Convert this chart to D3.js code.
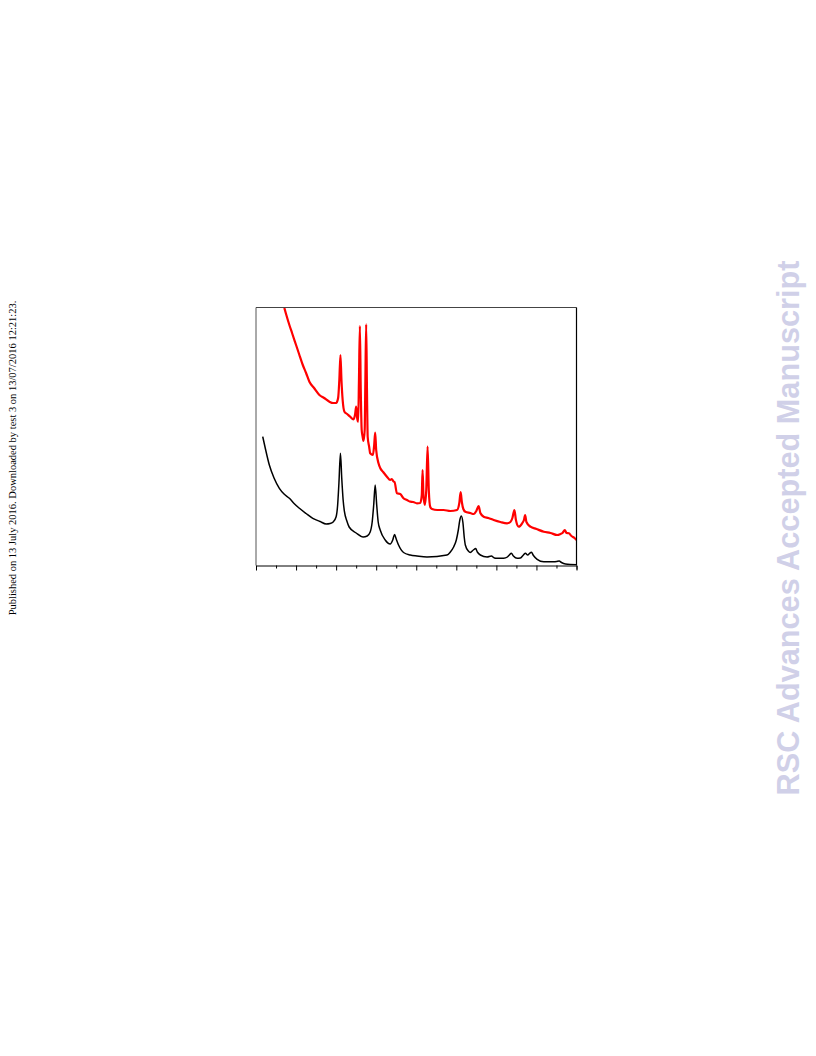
<!DOCTYPE html>
<html><head><meta charset="utf-8">
<script src="https://cdn.jsdelivr.net/npm/d3@7"></script>
<style>html,body{margin:0;padding:0;background:#fff}svg{display:block}</style>
</head><body>
<script>
// 2-theta (deg) and intensity (a.u.)
const blackX = [11.68,12.25,13.33,14.5,15.83,17.0,18.33,19.5,20.83,22.5,24.18,26.0,27.5,28.5,29.25,30.0,30.38,30.7,31.08,31.4,31.75,32.08,32.68,33.25,35.0,36.75,37.75,38.5,39.0,39.38,39.75,40.13,40.5,41.0,42.25,43.5,44.13,44.58,45.0,45.58,46.83,48.5,50.18,52.68,57.68,58.5,59.33,60.0,60.5,60.88,61.25,61.63,62.0,62.25,63.0,63.5,64.25,64.83,65.25,66.0,67.68,68.75,69.5,70.18,71.83,72.75,73.25,73.75,74.25,75.18,76.0,76.75,77.25,77.83,78.25,78.75,79.25,80.18,81.83,84.33,85.0,85.68,86.25,87.25,90.0];
const blackY = [128.8,118.5,100.5,87.5,77.2,71.5,67.2,62.0,57.2,52.0,47.2,44.0,41.5,42.0,43.5,48.8,60.5,82.5,112.2,87.5,65.5,53.8,44.5,38.5,32.5,28.5,29.5,33.5,43.5,60.5,80.5,60.5,43.5,35.5,25.5,21.5,25.5,31.0,26.5,20.5,13.0,10.5,9.5,8.5,10.5,13.5,18.5,25.5,35.5,45.5,49.5,43.5,27.5,20.5,14.5,13.0,15.5,17.0,13.5,10.5,8.5,9.5,7.5,7.2,7.2,8.5,10.5,12.2,9.5,7.2,7.5,10.5,12.2,10.5,12.0,13.2,10.0,6.2,3.8,3.8,4.0,4.5,3.0,1.5,0.8];
const redX = [17.08,17.5,18.33,19.0,20.0,20.75,21.68,22.5,23.33,24.5,25.83,27.0,28.33,29.25,30.0,30.5,30.8,31.08,31.33,31.63,32.08,32.75,33.5,34.33,34.75,35.0,35.25,35.5,35.7,35.93,36.15,36.38,36.63,36.83,37.13,37.3,37.5,37.7,37.88,38.25,38.5,39.18,39.5,39.75,40.0,40.58,41.0,41.75,42.68,43.5,43.88,44.33,44.58,45.18,46.0,46.75,47.68,48.5,49.25,50.18,51.0,51.38,51.58,51.8,52.13,52.5,52.83,53.13,53.5,53.93,55.25,56.83,58.5,60.18,60.75,61.08,61.38,61.75,62.25,63.5,64.33,65.0,65.58,66.0,66.83,68.0,69.33,71.0,72.68,73.5,74.0,74.5,74.88,75.58,76.43,76.88,77.18,77.5,78.5,80.0,81.83,83.5,85.18,86.0,86.5,87.08,87.5,88.08,88.75,89.5,90.0];
const redY = [257.5,251.5,240.5,232.5,220.5,211.5,200.5,192.5,183.8,177.5,170.5,167.5,163.8,162.5,162.5,167.5,185.5,210.5,185.5,165.5,153.8,151.5,148.8,146.2,151.5,158.8,147.5,143.8,185.5,239.5,175.5,135.5,128.5,124.5,135.5,185.5,241.2,175.5,128.5,118.5,112.2,110.5,120.5,132.8,115.5,102.2,97.5,93.5,88.8,85.5,86.5,84.0,83.5,72.2,71.5,67.5,65.5,63.8,63.5,62.2,62.5,70.5,95.5,70.5,60.5,75.5,118.8,75.5,58.5,56.5,55.5,55.5,54.5,55.5,62.5,73.5,63.5,56.5,53.8,52.5,51.5,54.5,59.5,52.5,48.8,47.5,45.5,43.5,42.2,43.5,47.5,55.5,45.5,38.8,42.2,45.5,50.5,43.5,38.8,36.5,33.8,32.5,30.5,31.5,32.5,35.5,32.5,32.2,29.5,27.5,25.5];
const xTicks = [10,15,20,25,30,35,40,45,50,55,60,65,70,75,80,85,90];
const sideNote = "Published on 13 July 2016. Downloaded by test 3 on 13/07/2016 12:21:23.";
const watermark = "RSC Advances Accepted Manuscript";

const W = 816, H = 1056;
const svg = d3.select("body").append("svg").attr("width", W).attr("height", H);
const pL = 256, pR = 576.5, pT = 307.5, pB = 565.5;
const x = d3.scaleLinear().domain([10, 90]).range([pL, pR]);
const y = d3.scaleLinear().domain([0, 258]).range([pB, pT]);

svg.append("defs").append("clipPath").attr("id", "clip")
  .append("rect").attr("x", pL).attr("y", pT).attr("width", pR - pL).attr("height", pB - pT);

const line = d3.line().x(d => x(d[0])).y(d => y(d[1])).curve(d3.curveMonotoneX);
const g = svg.append("g").attr("clip-path", "url(#clip)");
g.append("path").datum(redX.map((v, i) => [v, redY[i]]))
  .attr("d", line).attr("fill", "none").attr("stroke", "#ff0000").attr("stroke-width", 2.2).attr("stroke-linejoin", "round");
g.append("path").datum(blackX.map((v, i) => [v, blackY[i]]))
  .attr("d", line).attr("fill", "none").attr("stroke", "#000").attr("stroke-width", 1.5).attr("stroke-linejoin", "round");

// frame
svg.append("line").attr("x1", pL).attr("x2", pL).attr("y1", pT).attr("y2", pB).attr("stroke", "#555").attr("stroke-width", 1);
svg.append("line").attr("x1", pL).attr("x2", pR).attr("y1", pT).attr("y2", pT).attr("stroke", "#444").attr("stroke-width", 1);
svg.append("line").attr("x1", pR).attr("x2", pR).attr("y1", pT).attr("y2", pB).attr("stroke", "#000").attr("stroke-width", 1.2);

const axis = d3.axisBottom(x).tickValues(xTicks).tickFormat("").tickSizeOuter(0).tickSize(4);
const ax = svg.append("g").attr("transform", `translate(0,${pB})`).call(axis);
ax.select(".domain").attr("stroke", "#000");
ax.selectAll(".tick line").attr("stroke", "#000")
  .attr("y2", d => (d % 10 === 0 ? 5 : 3));

svg.append("text").attr("transform", "translate(16,458) rotate(-90)")
  .attr("text-anchor", "middle").attr("font-family", "'Liberation Serif', 'Times New Roman', serif")
  .attr("font-size", 10.5).attr("fill", "#000").text(sideNote);

svg.append("text").attr("transform", "translate(799,528) rotate(-90)")
  .attr("text-anchor", "middle").attr("font-family", "'Liberation Sans', Arial, sans-serif")
  .attr("font-weight", "bold").attr("font-size", 30.7).attr("fill", "#d0d0e8").text(watermark);
</script>
</body></html>
